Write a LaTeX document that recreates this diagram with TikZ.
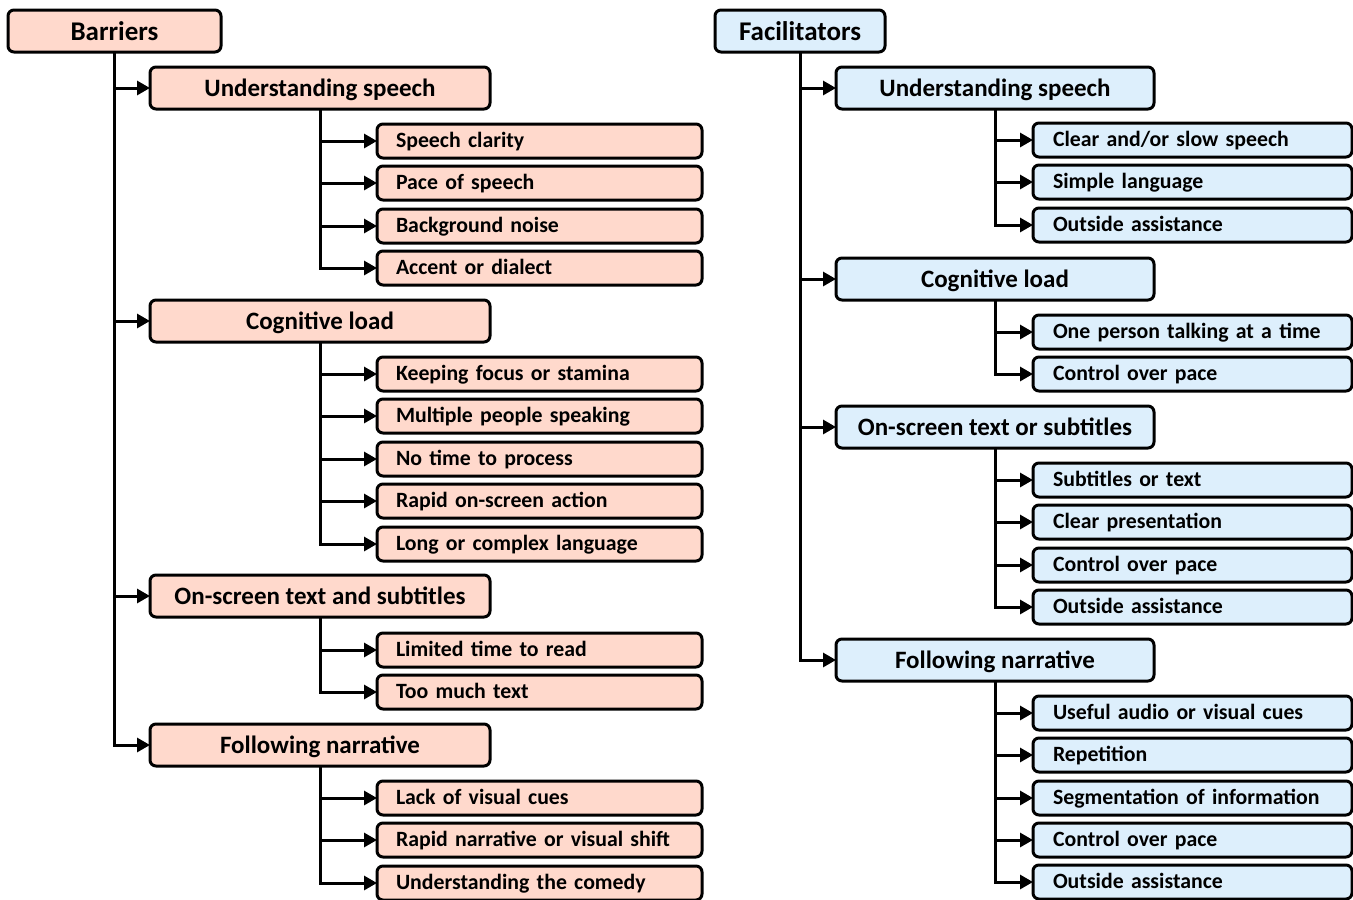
\documentclass[tikz,border=0pt]{standalone}
\usepackage{fontspec}
\setmainfont{Carlito}
\usetikzlibrary{arrows.meta}
\definecolor{pinkfill}{HTML}{FFD9CC}
\definecolor{bluefill}{HTML}{DDEFFC}
\tikzset{
  box/.style={draw=black, line width=3pt, rounded corners=6pt, inner sep=0pt, outer sep=0pt},
  rootbox/.style={box, minimum height=42pt, text height=23pt, text depth=3.6pt,
     font=\fontsize{27}{32}\selectfont\bfseries},
  midbox/.style={box, minimum height=42pt, text height=21pt, text depth=3.6pt,
     font=\fontsize{25}{30}\selectfont\bfseries},
  leafbox/.style={box, minimum height=34pt, anchor=west, align=left, inner xsep=19pt,
     text height=17.5pt, text depth=3.6pt, font=\fontsize{21.8}{26}\selectfont\bfseries},
  leafL/.style={leafbox, fill=pinkfill, text width=287pt},
  leafR/.style={leafbox, fill=bluefill, text width=281pt},
  arr/.style={line width=3pt, -{Triangle[length=13pt,width=14pt]}},
}
\begin{document}
\begin{tikzpicture}[x=1pt,y=-1pt]
\useasboundingbox (0,0) rectangle (1353,900);
% ---------------- Barriers ----------------
\node[rootbox, fill=pinkfill, minimum width=213pt] (B) at (114.5,31) {Barriers};
\node[midbox, fill=pinkfill, minimum width=340pt] (B1) at (320,88) {Understanding speech};
\node[midbox, fill=pinkfill, minimum width=340pt] (B2) at (320,321) {Cognitive load};
\node[midbox, fill=pinkfill, minimum width=340pt] (B3) at (320,596) {On-screen text and subtitles};
\node[midbox, fill=pinkfill, minimum width=340pt] (B4) at (320,745) {Following narrative};
\node[leafL] (B11) at (377,141) {Speech clarity};
\node[leafL] (B12) at (377,183) {Pace of speech};
\node[leafL] (B13) at (377,226) {Background noise};
\node[leafL] (B14) at (377,268) {Accent or dialect};
\node[leafL] (B21) at (377,374) {Keeping focus or stamina};
\node[leafL] (B22) at (377,416) {Multiple people speaking};
\node[leafL] (B23) at (377,459) {No time to process};
\node[leafL] (B24) at (377,501) {Rapid on-screen action};
\node[leafL] (B25) at (377,544) {Long or complex language};
\node[leafL] (B31) at (377,650) {Limited time to read};
\node[leafL] (B32) at (377,692) {Too much text};
\node[leafL] (B41) at (377,798) {Lack of visual cues};
\node[leafL] (B42) at (377,840) {Rapid narrative or visual shift};
\node[leafL] (B43) at (377,883) {Understanding the comedy};
\foreach \c in {B1,B2,B3,B4} \draw[arr] (B.south) |- (\c.west);
\foreach \c in {B11,B12,B13,B14} \draw[arr] (B1.south) |- (\c.west);
\foreach \c in {B21,B22,B23,B24,B25} \draw[arr] (B2.south) |- (\c.west);
\foreach \c in {B31,B32} \draw[arr] (B3.south) |- (\c.west);
\foreach \c in {B41,B42,B43} \draw[arr] (B4.south) |- (\c.west);
% ---------------- Facilitators ----------------
\node[rootbox, fill=bluefill, minimum width=170pt] (F) at (800,31) {Facilitators};
\node[midbox, fill=bluefill, minimum width=318pt] (F1) at (995,88) {Understanding speech};
\node[midbox, fill=bluefill, minimum width=318pt] (F2) at (995,279) {Cognitive load};
\node[midbox, fill=bluefill, minimum width=318pt] (F3) at (995,427) {On-screen text or subtitles};
\node[midbox, fill=bluefill, minimum width=318pt] (F4) at (995,660) {Following narrative};
\node[leafR, inner xsep=20pt, text width=279pt] (F11) at (1033,140) {Clear and/or slow speech};
\node[leafR, inner xsep=20pt, text width=279pt] (F12) at (1033,182) {Simple language};
\node[leafR, inner xsep=20pt, text width=279pt] (F13) at (1033,225) {Outside assistance};
\node[leafR, inner xsep=20pt, text width=279pt] (F21) at (1033,332) {One person talking at a time};
\node[leafR, inner xsep=20pt, text width=279pt] (F22) at (1033,374) {Control over pace};
\node[leafR, inner xsep=20pt, text width=279pt] (F31) at (1033,480) {Subtitles or text};
\node[leafR, inner xsep=20pt, text width=279pt] (F32) at (1033,522) {Clear presentation};
\node[leafR, inner xsep=20pt, text width=279pt] (F33) at (1033,565) {Control over pace};
\node[leafR, inner xsep=20pt, text width=279pt] (F34) at (1033,607) {Outside assistance};
\node[leafR, inner xsep=20pt, text width=279pt] (F41) at (1033,713) {Useful audio or visual cues};
\node[leafR, inner xsep=20pt, text width=279pt] (F42) at (1033,755) {Repetition};
\node[leafR, inner xsep=20pt, text width=279pt] (F43) at (1033,798) {Segmentation of information};
\node[leafR, inner xsep=20pt, text width=279pt] (F44) at (1033,840) {Control over pace};
\node[leafR, inner xsep=20pt, text width=279pt] (F45) at (1033,882) {Outside assistance};
\foreach \c in {F1,F2,F3,F4} \draw[arr] (F.south) |- (\c.west);
\foreach \c in {F11,F12,F13} \draw[arr] (F1.south) |- (\c.west);
\foreach \c in {F21,F22} \draw[arr] (F2.south) |- (\c.west);
\foreach \c in {F31,F32,F33,F34} \draw[arr] (F3.south) |- (\c.west);
\foreach \c in {F41,F42,F43,F44,F45} \draw[arr] (F4.south) |- (\c.west);
\end{tikzpicture}
\end{document}
